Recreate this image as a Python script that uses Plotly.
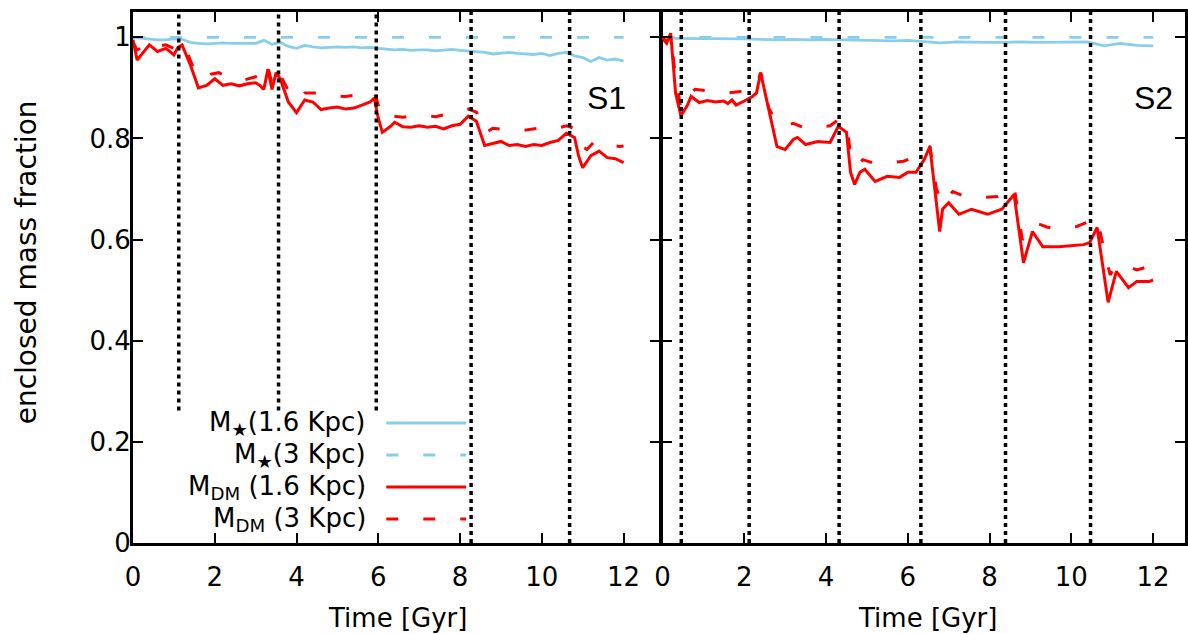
import plotly.graph_objects as go

# ---------------- data ----------------
# Left panel (S1)
s1_star_t = [0, 0.2, 0.4, 0.6, 0.8, 1.0, 1.2, 1.4, 1.6, 1.8, 2.0, 2.2, 2.4, 2.6, 2.8, 3.0, 3.2, 3.4, 3.6, 3.8,
             4.0, 4.2, 4.4, 4.6, 4.8, 5.0, 5.2, 5.4, 5.6, 5.8, 6.0, 6.2, 6.4, 6.6, 6.8, 7.0, 7.2, 7.4, 7.6, 7.8,
             8.0, 8.2, 8.4, 8.6, 8.8, 9.0, 9.2, 9.4, 9.6, 9.8, 10.0, 10.2, 10.4, 10.6, 10.8, 11.0, 11.2, 11.4,
             11.6, 11.8, 12.0]
s1_star16 = [1.0, 0.998, 0.996, 0.995, 0.995, 0.997, 0.996, 0.99, 0.988, 0.987, 0.988, 0.989, 0.988, 0.988,
             0.987, 0.988, 0.994, 0.986, 0.99, 0.982, 0.978, 0.984, 0.981, 0.979, 0.98, 0.981, 0.98, 0.981,
             0.979, 0.98, 0.978, 0.976, 0.975, 0.976, 0.974, 0.975, 0.975, 0.973, 0.975, 0.976, 0.974, 0.973,
             0.971, 0.97, 0.967, 0.969, 0.97, 0.968, 0.967, 0.966, 0.968, 0.964, 0.968, 0.97, 0.963, 0.96,
             0.952, 0.96, 0.955, 0.957, 0.953]
s1_star3_t = [0, 3.0, 6.0, 9.0, 12.0]
s1_star3 = [1.0, 1.0, 1.0, 1.0, 1.0]

s1_dm16_t = [0, 0.1, 0.3, 0.4, 0.6, 0.8, 0.9, 1.0, 1.1, 1.2, 1.4, 1.6, 1.8, 2.0, 2.2, 2.4, 2.6, 2.8, 3.0, 3.1,
             3.2, 3.3, 3.4, 3.5, 3.6, 3.8, 4.0, 4.2, 4.4, 4.6, 4.8, 5.0, 5.2, 5.4, 5.6, 5.8, 5.9, 6.0, 6.1,
             6.3, 6.4, 6.6, 6.8, 7.0, 7.2, 7.4, 7.6, 7.8, 8.0, 8.2, 8.4, 8.6, 8.8, 9.0, 9.2, 9.4, 9.6, 9.8,
             10.0, 10.2, 10.4, 10.6, 10.8, 10.9, 11.0, 11.2, 11.4, 11.6, 11.8, 12.0]
s1_dm16 = [0.995, 0.955, 0.975, 0.985, 0.972, 0.978, 0.972, 0.965, 0.98, 0.985, 0.946, 0.9, 0.905, 0.918,
           0.905, 0.908, 0.904, 0.908, 0.91, 0.905, 0.897, 0.937, 0.897, 0.93, 0.918, 0.872, 0.851, 0.876,
           0.872, 0.857, 0.86, 0.862, 0.858, 0.86, 0.866, 0.872, 0.88, 0.84, 0.812, 0.824, 0.832, 0.823,
           0.822, 0.825, 0.822, 0.824, 0.819, 0.825, 0.828, 0.844, 0.834, 0.786, 0.79, 0.794, 0.786, 0.788,
           0.784, 0.788, 0.786, 0.792, 0.796, 0.81, 0.802, 0.765, 0.742, 0.766, 0.775, 0.762, 0.76, 0.752]

s1_dm3_t = [0, 0.1, 0.3, 0.4, 0.6, 0.8, 1.0, 1.1, 1.2, 1.3, 1.5, 1.7, 1.9, 2.1, 2.4, 2.7, 3.0, 3.2, 3.3, 3.4,
            3.5, 3.6, 3.8, 4.0, 4.2, 4.5, 4.8, 5.2, 5.5, 5.8, 5.9, 6.1, 6.3, 6.6, 7.0, 7.4, 7.9, 8.2, 8.4,
            8.6, 8.8, 9.1, 9.5, 9.9, 10.3, 10.6, 10.8, 10.9, 11.1, 11.3, 11.6, 11.9, 12.0]
s1_dm3 = [0.99, 0.975, 0.982, 0.99, 0.982, 0.985, 0.978, 0.985, 0.99, 0.975, 0.935, 0.918, 0.927, 0.93,
          0.918, 0.915, 0.922, 0.912, 0.94, 0.91, 0.935, 0.925, 0.895, 0.875, 0.89, 0.89, 0.885, 0.883,
          0.886, 0.89, 0.892, 0.84, 0.845, 0.842, 0.846, 0.843, 0.853, 0.858, 0.852, 0.81, 0.82, 0.818,
          0.815, 0.82, 0.818, 0.825, 0.82, 0.79, 0.778, 0.795, 0.788, 0.784, 0.785]

# Right panel (S2)
s2_star_t = [0, 0.4, 0.8, 1.2, 1.6, 2.0, 2.4, 2.8, 3.2, 3.6, 4.0, 4.4, 4.8, 5.2, 5.6, 6.0, 6.4, 6.8, 7.2,
             7.6, 8.0, 8.4, 8.8, 9.2, 9.6, 10.0, 10.4, 10.8, 11.2, 11.6, 12.0]
s2_star16 = [0.998, 0.998, 0.997, 0.998, 0.997, 0.997, 0.996, 0.995, 0.996, 0.995, 0.996, 0.995, 0.995,
             0.994, 0.993, 0.994, 0.992, 0.989, 0.991, 0.99, 0.99, 0.99, 0.991, 0.99, 0.99, 0.99, 0.991,
             0.983, 0.988, 0.984, 0.983]
s2_star3_t = [0, 3.0, 6.0, 9.0, 12.0]
s2_star3 = [1.0, 1.0, 1.0, 1.0, 1.0]

s2_dm16_t = [0, 0.1, 0.2, 0.32, 0.45, 0.6, 0.7, 0.9, 1.1, 1.3, 1.5, 1.6, 1.7, 1.8, 2.0, 2.2, 2.3, 2.4, 2.6,
             2.8, 3.0, 3.2, 3.3, 3.5, 3.8, 4.0, 4.1, 4.3, 4.5, 4.6, 4.7, 4.83, 4.95, 5.2, 5.5, 5.8, 6.0, 6.2,
             6.4, 6.54, 6.7, 6.78, 6.85, 7.0, 7.25, 7.56, 7.95, 8.3, 8.6, 8.83, 9.05, 9.3, 9.7, 10.3, 10.45,
             10.63, 10.9, 11.1, 11.4, 11.6, 11.9, 12.0]
s2_dm16 = [0.998, 0.988, 1.008, 0.89, 0.845, 0.864, 0.883, 0.871, 0.875, 0.872, 0.874, 0.869, 0.876, 0.866,
           0.874, 0.883, 0.89, 0.93, 0.857, 0.784, 0.778, 0.798, 0.802, 0.788, 0.794, 0.792, 0.792, 0.824,
           0.812, 0.733, 0.709, 0.733, 0.739, 0.715, 0.725, 0.723, 0.733, 0.733, 0.758, 0.784, 0.665, 0.616,
           0.66, 0.673, 0.65, 0.66, 0.65, 0.66, 0.689, 0.554, 0.616, 0.586, 0.586, 0.59, 0.594, 0.624, 0.476,
           0.537, 0.505, 0.517, 0.517, 0.52]

s2_dm3_t = [0, 0.1, 0.2, 0.32, 0.45, 0.6, 0.8, 1.0, 1.3, 1.6, 1.9, 2.1, 2.3, 2.4, 2.6, 2.8, 3.0, 3.2, 3.5,
            3.8, 4.1, 4.3, 4.5, 4.6, 4.75, 4.9, 5.2, 5.6, 5.9, 6.2, 6.4, 6.54, 6.7, 6.85, 7.1, 7.4, 7.8, 8.2,
            8.6, 8.8, 8.95, 9.1, 9.4, 9.7, 10.1, 10.5, 10.63, 10.8, 10.95, 11.1, 11.3, 11.6, 11.9, 12.0]
s2_dm3 = [1.0, 0.99, 1.005, 0.92, 0.86, 0.885, 0.897, 0.895, 0.892, 0.89, 0.893, 0.892, 0.905, 0.93, 0.86,
          0.83, 0.824, 0.83, 0.82, 0.822, 0.825, 0.837, 0.83, 0.77, 0.745, 0.758, 0.75, 0.752, 0.755, 0.765,
          0.775, 0.785, 0.7, 0.67, 0.695, 0.685, 0.683, 0.685, 0.705, 0.6, 0.61, 0.634, 0.625, 0.62, 0.625,
          0.638, 0.642, 0.58, 0.53, 0.55, 0.55, 0.54, 0.547, 0.547]

# event markers (vertical dotted lines)
s1_events = [1.12, 3.56, 5.95, 8.27, 10.68]
s1_event_bottom = [0.262, 0.262, 0.262, 0.0, 0.0]
s2_events = [0.46, 2.12, 4.32, 6.32, 8.39, 10.47]
s2_event_bottom = [0.0, 0.0, 0.0, 0.0, 0.0, 0.0]

yticks = [0, 0.2, 0.4, 0.6, 0.8, 1.0]
ytick_text = ["0", "0.2", "0.4", "0.6", "0.8", "1"]
xticks = [0, 2, 4, 6, 8, 10, 12]

legend_labels = ["M<sub>★</sub>(1.6 Kpc)", "M<sub>★</sub>(3 Kpc)",
                 "M<sub>DM</sub> (1.6 Kpc)", "M<sub>DM</sub> (3 Kpc)"]

# ---------------- style / geometry ----------------
W, H = 1188, 634
L, R, T, B = 133, 0, 12, 91
PW, PH = W - L - R, H - T - B
SPLIT_L = 662
SPLIT_R = 664
PXU = 41.0
FONT = "DejaVu Sans"
BLUE = "#87CEEB"
RED = "#FF0000"
DASH = "12px,25px"
DOT = "4px,4px"
YMAX = 1.05


def px(xp):
    return (xp - L) / PW


def py(yp):
    return (H - B - yp) / PH


fig = go.Figure()

styles = [(BLUE, "solid", 2.8), (BLUE, DASH, 2.8), (RED, "solid", 3), (RED, DASH, 3)]
panels = [
    ("x", "y", [(s1_star_t, s1_star16), (s1_star3_t, s1_star3), (s1_dm16_t, s1_dm16), (s1_dm3_t, s1_dm3)],
     s1_events, s1_event_bottom),
    ("x2", "y2", [(s2_star_t, s2_star16), (s2_star3_t, s2_star3), (s2_dm16_t, s2_dm16), (s2_dm3_t, s2_dm3)],
     s2_events, s2_event_bottom),
]
for xa, ya, series, events, bottoms in panels:
    for (t, v), (c, d, w) in zip(series, styles):
        fig.add_trace(go.Scatter(x=t, y=v, mode="lines", xaxis=xa, yaxis=ya, showlegend=False,
                                 line=dict(color=c, dash=d, width=w), hoverinfo="skip"))
    for e, b in zip(events, bottoms):
        fig.add_trace(go.Scatter(x=[e, e], y=[b, YMAX], mode="lines", xaxis=xa, yaxis=ya, showlegend=False,
                                 line=dict(color="black", dash=DOT, width=3.5), hoverinfo="skip"))

axis_common = dict(showline=True, linewidth=3, linecolor="black", mirror="ticks", ticks="inside",
                   ticklen=10, tickwidth=2, tickcolor="black", showgrid=False, zeroline=False,
                   tickfont=dict(family=FONT, size=26, color="black"))
fig.update_layout(
    width=W, height=H, margin=dict(l=L, r=R, t=T, b=B, pad=0),
    paper_bgcolor="white", plot_bgcolor="white",
    font=dict(family=FONT, size=26, color="black"),
    xaxis=dict(domain=[0, px(SPLIT_L)], range=[0, (SPLIT_L - L) / PXU], tickvals=xticks, anchor="y",
               ticklabelstandoff=9, **axis_common),
    xaxis2=dict(domain=[px(SPLIT_R), 1], range=[0, (W - SPLIT_R) / PXU], tickvals=xticks, anchor="y2",
                ticklabelstandoff=9, **axis_common),
    yaxis=dict(domain=[0, 1], range=[0, YMAX], tickvals=yticks, ticktext=ytick_text, anchor="x",
               ticklabelstandoff=-6, **axis_common),
    yaxis2=dict(domain=[0, 1], range=[0, YMAX], tickvals=yticks, showticklabels=False, anchor="x2",
                **axis_common),
)

annotations = []
# legend (manual, gnuplot-style: text right-aligned, sample to the right)
rows = [423, 455, 487, 519]
for lab, yrow, (c, d, w) in zip(legend_labels, rows, styles):
    annotations.append(dict(x=px(369), y=py(yrow), xref="paper", yref="paper", text=lab, showarrow=False,
                            xanchor="right", yanchor="middle", font=dict(family=FONT, size=26)))
    fig.add_shape(type="line", xref="paper", yref="paper", x0=px(387), x1=px(467), y0=py(yrow), y1=py(yrow),
                  line=dict(color=c, dash=d, width=w))

annotations += [
    dict(x=px(608), y=py(98), xref="paper", yref="paper", text="S1", showarrow=False,
         xanchor="center", yanchor="middle", font=dict(family="Liberation Sans", size=32)),
    dict(x=px(1156), y=py(98), xref="paper", yref="paper", text="S2", showarrow=False,
         xanchor="center", yanchor="middle", font=dict(family="Liberation Sans", size=32)),
    dict(x=px(398), y=py(618), xref="paper", yref="paper", text="Time [Gyr]", showarrow=False,
         xanchor="center", yanchor="middle", font=dict(family=FONT, size=26)),
    dict(x=px(930), y=py(618), xref="paper", yref="paper", text="Time [Gyr]", showarrow=False,
         xanchor="center", yanchor="middle", font=dict(family=FONT, size=26)),
    dict(x=px(26), y=py(262), xref="paper", yref="paper", text="enclosed mass fraction", showarrow=False,
         textangle=-90, xanchor="center", yanchor="middle", font=dict(family=FONT, size=28)),
]
fig.update_layout(annotations=annotations)

fig.write_html("out.html")
